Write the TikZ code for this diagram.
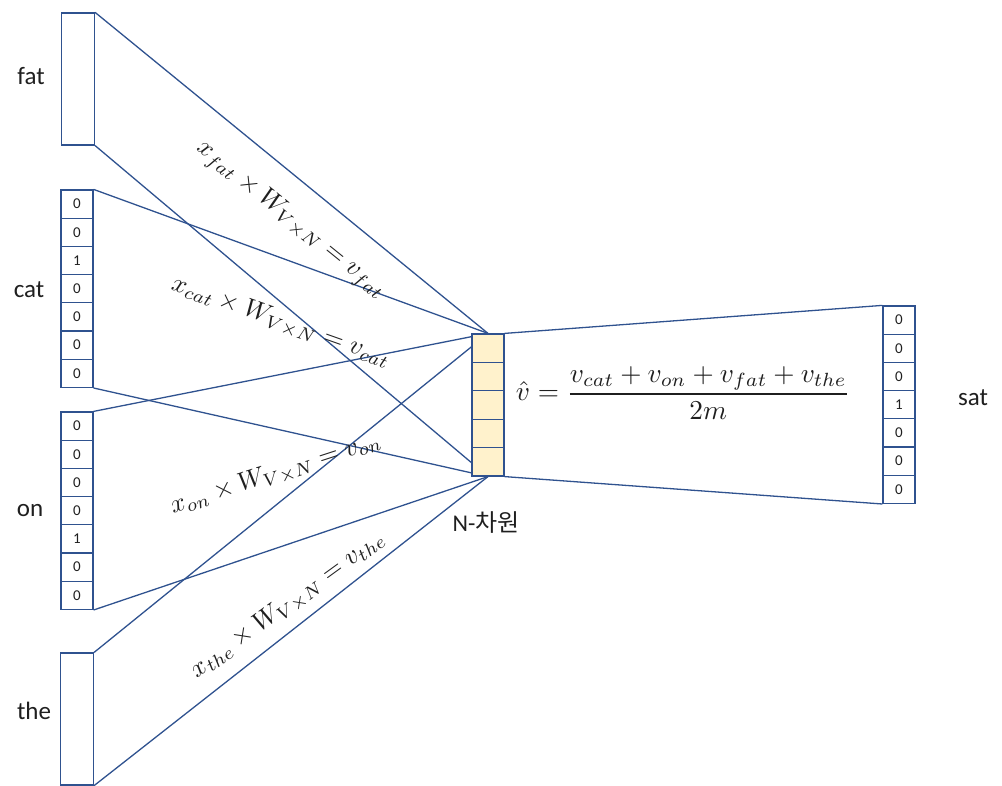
\documentclass[tikz,border=0pt]{standalone}
\usepackage{amsmath}
\usepackage{fontspec}
\setmainfont{Carlito}
\newfontfamily\kofont{Noto Sans CJK KR}
\usetikzlibrary{backgrounds}
\definecolor{ln}{HTML}{2F528F}
\definecolor{midfill}{HTML}{FFF2CC}
\definecolor{txt}{HTML}{1F1F1F}
\begin{document}
\begin{tikzpicture}[x=1pt,y=-1pt,
  cell/.style={draw=ln, line width=1.2pt, minimum width=32pt, minimum height=28.2pt, inner sep=0pt, font=\fontsize{15}{17}\selectfont, text=txt},
  midcell/.style={cell, fill=midfill, minimum height=28.4pt},
  bigbox/.style={draw=ln, line width=1.2pt, minimum width=33pt, minimum height=132pt, inner sep=0pt},
  word/.style={font=\fontsize{25}{30}\selectfont, inner sep=0pt, text=txt},
  link/.style={draw=ln, line width=1.3pt},
  eqn/.style={inner sep=0pt, scale=2.6, text=txt}]
\useasboundingbox (0,0) rectangle (1002,786);

% left input vectors
\node[bigbox] (fat) at (78,79) {};
\foreach \v [count=\i] in {0,0,1,0,0,0,0}
  \node[cell] (cat\i) at (77,{190+14.1+28.2*(\i-1)}) {\v};
\foreach \v [count=\i] in {0,0,0,0,1,0,0}
  \node[cell] (on\i) at (77,{412+14.1+28.2*(\i-1)}) {\v};
\node[bigbox] (the) at (77,719) {};

% hidden layer
\foreach \i in {1,...,5}
  \node[midcell] (mid\i) at (488,{334+14.2+28.4*(\i-1)}) {};

% output vector
\foreach \v [count=\i] in {0,0,0,1,0,0,0}
  \node[cell] (sat\i) at (899,{306+14.1+28.2*(\i-1)}) {\v};

% word labels
\node[word] (wfat) at (31,76) {fat};
\node[word] (wcat) at (29,290) {cat};
\node[word] (won) at (30,511) {on};
\node[word] (wthe) at (34,711) {the};
\node[word] (wsat) at (973,398) {sat};
\node[word, font=\fontsize{24}{28}\selectfont] (ndim) at (486,523) {N-{\kofont 차원}};

% connectors
\begin{scope}[on background layer]
\draw[link] (fat.north east) -- (mid1.north);
\draw[link] (fat.south east) -- (mid5.south);
\draw[link] (cat1.north east) -- (mid1.north);
\draw[link] (cat7.south east) -- (mid5.south);
\draw[link] (on1.north east) -- (mid1.north);
\draw[link] (on7.south east) -- (mid5.south);
\draw[link] (the.north east) -- (mid1.north);
\draw[link] (the.south east) -- (mid5.south);
\draw[link] (mid1.north east) -- (sat1.north west);
\draw[link] (mid5.south east) -- (sat7.south west);
\end{scope}

% equations
\node[eqn, rotate=-39] (efat) at (291,220) {$x_{fat}\times W_{V\times N}=v_{fat}$};
\node[eqn, rotate=-19.5] (ecat) at (281,322) {$x_{cat}\times W_{V\times N}=v_{cat}$};
\node[eqn, rotate=18] (eon) at (276,474) {$x_{on}\times W_{V\times N}=v_{on}$};
\node[eqn, rotate=36] (ethe) at (288,605) {$x_{the}\times W_{V\times N}=v_{the}$};
\node[eqn, scale=1.05] (vhat) at (683,393) {$\hat{v}=\dfrac{v_{cat}+v_{on}+v_{fat}+v_{the}}{2m}$};
\end{tikzpicture}
\end{document}
